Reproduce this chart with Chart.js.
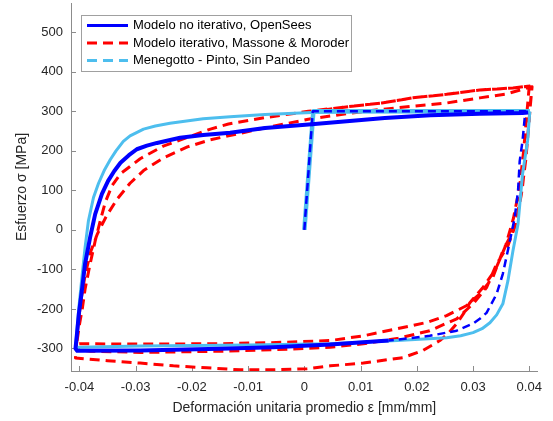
<!DOCTYPE html>
<html><head><meta charset="utf-8">
<script src="https://cdn.jsdelivr.net/npm/chart.js@4.4.0/dist/chart.umd.min.js"></script>
<style>html,body{margin:0;padding:0;background:#fff;}#wrap{position:relative;width:553px;height:421px;}</style>
</head><body><div id="wrap"><canvas id="c" width="553" height="421"></canvas></div>
<script>
const seriesLabels = ['Modelo no iterativo, OpenSees', 'Modelo iterativo, Massone & Moroder', 'Menegotto - Pinto, Sin Pandeo'];

// Modelo no iterativo, OpenSees (blue)
const openSeesStrain = [0, 0.0015, 0.0393, 0.0388, 0.0383, 0.0380, 0.0374, 0.0363, 0.0353, 0.0342, 0.0324, 0.0312, 0.0300, 0.0271, 0.0223, 0.0150, 0.0046, -0.0056, -0.0150, -0.0292, -0.0404, -0.0407, -0.0405, -0.0401, -0.0395, -0.0390, -0.0381, -0.0372, -0.0360, -0.0349, -0.0338, -0.0327, -0.0312, -0.0298, -0.0280, -0.0262, -0.0221, -0.0180, -0.0132, -0.0070, 0.0013, 0.0143, 0.0224, 0.0312, 0.0388, 0.0398];
const openSeesStress = [0, 300, 300, 225, 174, 98, 30, -45, -111, -162, -210, -225, -237, -255, -268, -280, -290, -297, -301, -305, -306, -300, -272, -212, -146, -86, -19, 40, 91, 124, 149, 170, 189, 204, 213, 220, 233, 240, 246, 258, 267, 283, 290, 294, 296, 297];

// Modelo iterativo, Massone & Moroder (red)
const massoneStrain = [0, 0.0016, 0.0085, 0.0138, 0.0193, 0.0253, 0.0312, 0.0371, 0.0400,
  0.0396, 0.0390, 0.0383, 0.0372, 0.0358, 0.0340, 0.0318, 0.0294, 0.0283, 0.0271, 0.0256, 0.0241, 0.0211, 0.0176, 0.0105, 0.0046, 0.0005, -0.0056, -0.0114, -0.0173, -0.0233, -0.0292, -0.0350, -0.0407,
  -0.0403, -0.0398, -0.0390, -0.0380, -0.0368, -0.0352, -0.0333, -0.0310, -0.0286, -0.0251, -0.0208, -0.0167, -0.0135, -0.0070, 0.0007, 0.0085, 0.0138, 0.0193, 0.0253, 0.0312, 0.0360, 0.0401,
  0.0405, 0.0401, 0.0395, 0.0388, 0.0378, 0.0365, 0.0353, 0.0335, 0.0312, 0.0288, 0.0253, 0.0218, 0.0165, 0.0105, 0.0046, -0.0050, -0.0150, -0.0290, -0.0398, -0.0405,
  -0.0400, -0.0395, -0.0390, -0.0381, -0.0372, -0.0363, -0.0354, -0.0342, -0.0327, -0.0292, -0.0251, -0.0208, -0.0167, -0.0135, -0.0070, 0.0007, 0.0085, 0.0138, 0.0193, 0.0253, 0.0312, 0.0371, 0.0400,
  0.0404, 0.0400, 0.0394, 0.0386, 0.0375, 0.0362, 0.0342, 0.0324, 0.0300, 0.0271, 0.0223, 0.0165, 0.0105, 0.0046, -0.0050, -0.0150, -0.0290, -0.0380, -0.0402];
const massoneStress = [0, 300, 313, 321, 334, 343, 354, 359, 364,
  300, 200, 110, 30, -40, -100, -145, -185, -212, -237, -262, -280, -305, -323, -337, -344, -351, -354, -354, -349, -344, -337, -331, -324,
  -250, -185, -115, -55, -10, 35, 78, 118, 150, 182, 210, 228, 238, 258, 280, 296, 305, 313, 321, 334, 344, 361,
  362, 300, 200, 110, 30, -20, -53, -121, -162, -192, -217, -234, -250, -268, -280, -285, -288, -289, -288, -289,
  -240, -200, -150, -86, -28, 23, 70, 112, 142, 180, 212, 234, 255, 268, 284, 300, 313, 321, 334, 343, 354, 359, 364,
  355, 280, 180, 90, 10, -40, -86, -146, -187, -225, -255, -275, -288, -297, -303, -307, -310, -307, -302];

// Menegotto - Pinto, Sin Pandeo (light blue)
const mpStrain = [0, 0.0016, 0.0401, 0.0397, 0.0388, 0.0380, 0.0371, 0.0362, 0.0353, 0.0342, 0.0330, 0.0316, 0.0300, 0.0278, 0.0253, 0.0165, 0.0046, -0.0100, -0.0290, -0.0400, -0.0407, -0.0401, -0.0395, -0.0390, -0.0384, -0.0375, -0.0366, -0.0356, -0.0345, -0.0335, -0.0322, -0.0310, -0.0286, -0.0265, -0.0239, -0.0180, -0.0132, -0.0070, 0.0013, 0.0100, 0.0401];
const mpStress = [0, 300, 300, 225, 141, 15, -53, -129, -187, -215, -235, -250, -260, -268, -273, -280, -288, -291, -294, -297, -298, -196, -112, -45, 23, 82, 118, 150, 178, 200, 224, 238, 255, 263, 270, 281, 286, 292, 297, 299, 300];

const xTickValues = [-0.04, -0.03, -0.02, -0.01, 0, 0.01, 0.02, 0.03, 0.04];
const xTickLabels = ['-0.04', '-0.03', '-0.02', '-0.01', '0', '0.01', '0.02', '0.03', '0.04'];
const yTickValues = [-300, -200, -100, 0, 100, 200, 300, 400, 500];
const yTickLabels = ['-300', '-200', '-100', '0', '100', '200', '300', '400', '500'];

const FONT = "'Liberation Sans', Arial, Helvetica, sans-serif";
const AXIS_COLOR = '#8c8c8c';
const TEXT_COLOR = '#262626';
const BLUE_DASHED_SEGS = 15;

function pts(xs, ys) { return xs.map((x, i) => ({ x: x, y: ys[i] })); }

const insideTicks = {
  id: 'insideTicks',
  beforeDatasetsDraw(chart) {
    const { ctx, chartArea, scales } = chart;
    ctx.save();
    ctx.strokeStyle = AXIS_COLOR;
    ctx.lineWidth = 1;
    ctx.beginPath();
    xTickValues.forEach(v => {
      const px = Math.round(scales.x.getPixelForValue(v)) + 0.5;
      ctx.moveTo(px, chartArea.bottom);
      ctx.lineTo(px, chartArea.bottom - 5);
    });
    yTickValues.forEach(v => {
      const py = Math.round(scales.y.getPixelForValue(v)) + 0.5;
      ctx.moveTo(chartArea.left, py);
      ctx.lineTo(chartArea.left + 5, py);
    });
    ctx.stroke();
    ctx.restore();
  }
};

const legendBox = {
  id: 'legendBox',
  afterDraw(chart) {
    const { ctx } = chart;
    const bx = 81.5, by = 15.5, bw = 270, bh = 56;
    ctx.save();
    ctx.fillStyle = '#ffffff';
    ctx.fillRect(bx, by, bw, bh);
    ctx.strokeStyle = '#a0a0a0';
    ctx.lineWidth = 1;
    ctx.strokeRect(bx, by, bw, bh);
    const rows = [25.5, 43, 60.5];
    chart.data.datasets.forEach((ds, i) => {
      const y = rows[i];
      ctx.beginPath();
      ctx.strokeStyle = ds.borderColor;
      ctx.lineWidth = 3;
      ctx.setLineDash(ds.legendDash || []);
      ctx.moveTo(87, y);
      ctx.lineTo(128, y);
      ctx.stroke();
      ctx.setLineDash([]);
      ctx.fillStyle = '#000000';
      ctx.font = '13px ' + FONT;
      ctx.textBaseline = 'middle';
      ctx.textAlign = 'left';
      ctx.fillText(ds.label, 133, y);
    });
    ctx.restore();
  }
};

new Chart(document.getElementById('c').getContext('2d'), {
  type: 'scatter',
  data: {
    datasets: [
      {
        label: seriesLabels[0],
        data: pts(openSeesStrain, openSeesStress),
        borderColor: '#0000FF', backgroundColor: '#0000FF',
        borderWidth: 4, showLine: true, pointRadius: 0, order: 1,
        legendDash: [],
        segment: {
          borderDash: c => c.p0DataIndex < BLUE_DASHED_SEGS ? [8, 5] : undefined,
          borderWidth: c => c.p0DataIndex < BLUE_DASHED_SEGS ? 2.5 : undefined
        }
      },
      {
        label: seriesLabels[1],
        data: pts(massoneStrain, massoneStress),
        borderColor: '#FF0000', backgroundColor: '#FF0000',
        borderWidth: 3, borderDash: [10, 6], showLine: true, pointRadius: 0, order: 3,
        legendDash: [10, 6]
      },
      {
        label: seriesLabels[2],
        data: pts(mpStrain, mpStress),
        borderColor: '#4DBEEE', backgroundColor: '#4DBEEE',
        borderWidth: 3, showLine: true, pointRadius: 0, order: 2,
        legendDash: [10, 6],
        segment: {
          borderWidth: c => c.p0DataIndex < 2 ? 4.5 : undefined
        }
      }
    ]
  },
  options: {
    responsive: false, animation: false, devicePixelRatio: 1,
    layout: { padding: { left: 0, top: 3, right: 15.3, bottom: 0 } },
    elements: { line: { tension: 0, borderCapStyle: 'butt', borderJoinStyle: 'round' } },
    plugins: { legend: { display: false }, tooltip: { enabled: false } },
    scales: {
      x: {
        type: 'linear', min: -0.0415, max: 0.0415,
        afterBuildTicks: s => { s.ticks = xTickValues.map(v => ({ value: v })); },
        afterFit: s => { s.height = 50; s.paddingLeft = 0; s.paddingRight = 0; },
        ticks: { callback: (v, i) => xTickLabels[i], font: { family: FONT, size: 13 }, color: TEXT_COLOR, padding: 9, maxRotation: 0, autoSkip: false },
        grid: { display: false, drawTicks: false },
        border: { display: true, color: AXIS_COLOR, width: 1 },
        title: { display: true, text: 'Deformación unitaria promedio ε [mm/mm]', font: { family: FONT, size: 14 }, color: TEXT_COLOR, padding: { top: 0, bottom: 4 } }
      },
      y: {
        type: 'linear', min: -357, max: 574,
        afterBuildTicks: s => { s.ticks = yTickValues.map(v => ({ value: v })); },
        afterFit: s => { s.width = 71; s.paddingTop = 0; s.paddingBottom = 0; },
        ticks: { callback: (v, i) => yTickLabels[i], font: { family: FONT, size: 13 }, color: TEXT_COLOR, padding: 8, autoSkip: false },
        grid: { display: false, drawTicks: false },
        border: { display: true, color: AXIS_COLOR, width: 1 },
        title: { display: true, text: 'Esfuerzo σ [MPa]', font: { family: FONT, size: 14 }, color: TEXT_COLOR, padding: { top: 14, bottom: 0 } }
      }
    }
  },
  plugins: [insideTicks, legendBox]
});
</script></body></html>
